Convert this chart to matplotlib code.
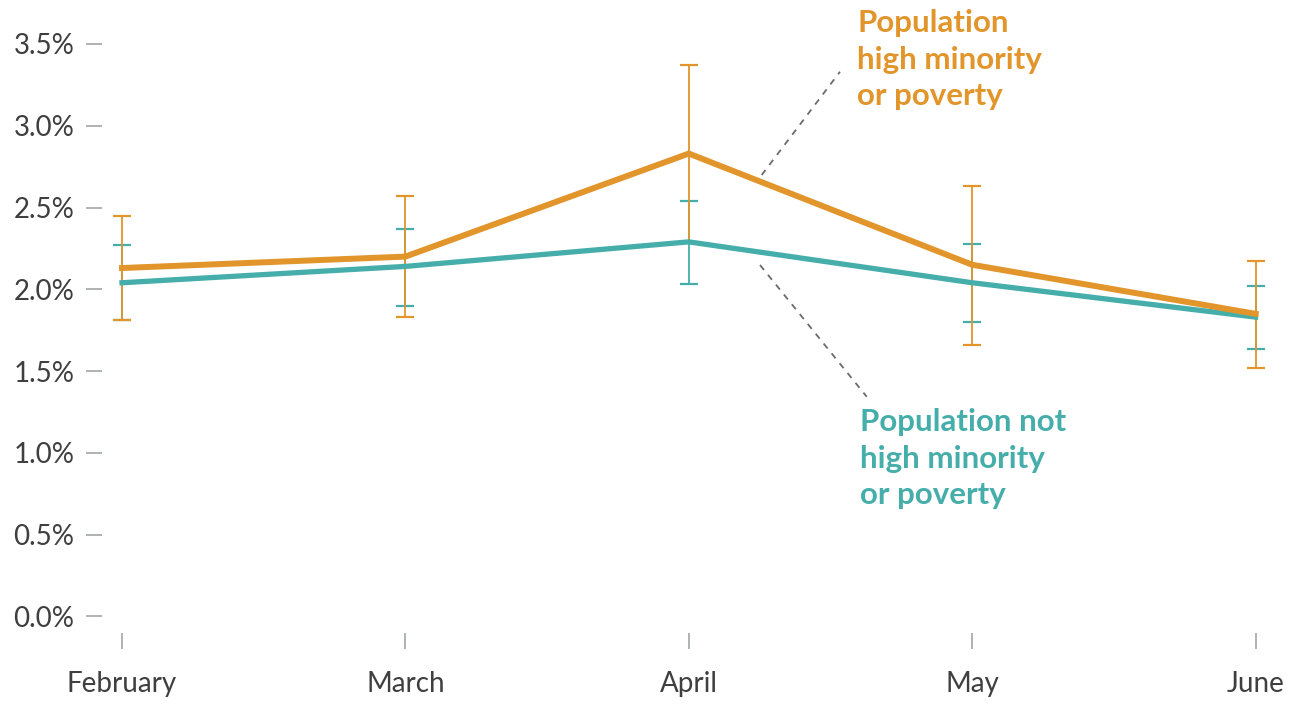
import matplotlib
matplotlib.use("Agg")
import matplotlib.pyplot as plt
import numpy as np

months = ["February", "March", "April", "May", "June"]
high_mean = [2.13, 2.20, 2.83, 2.15, 1.85]
high_lo = [1.81, 1.83, 2.29, 1.66, 1.52]
high_hi = [2.45, 2.57, 3.37, 2.63, 2.175]
not_mean = [2.04, 2.14, 2.29, 2.04, 1.83]
not_lo = [1.81, 1.90, 2.03, 1.80, 1.635]
not_hi = [2.27, 2.37, 2.54, 2.28, 2.02]
yticks = [0.0, 0.5, 1.0, 1.5, 2.0, 2.5, 3.0, 3.5]

ORANGE = "#E1952A"
TEAL = "#46AEAA"
GRAY_TICK = "#A9ADB0"
TXT = "#3F3F3F"

plt.rcParams['font.family'] = ['Lato', 'DejaVu Sans']

W, H = 1295, 709
fig = plt.figure(figsize=(W / 100, H / 100), dpi=100)
left_px, right_px, bottom_px, top_px = 101.7, 1290, 632.7, 10
ax = fig.add_axes([left_px / W, 1 - bottom_px / H, (right_px - left_px) / W, (bottom_px - top_px) / H])

x0_px, unit_x = 122, 283.4
y0_px, unit_y = 616.4, 163.55
ax.set_xlim((left_px - x0_px) / unit_x, (right_px - x0_px) / unit_x)
ax.set_ylim(-(bottom_px - y0_px) / unit_y, (y0_px - top_px) / unit_y)

x = np.arange(len(months))

def errs(m, lo, hi):
    m = np.array(m); return [m - np.array(lo), np.array(hi) - m]

ax.errorbar(x, not_mean, yerr=errs(not_mean, not_lo, not_hi), fmt='none',
            ecolor=TEAL, elinewidth=1.3, capsize=6.5, capthick=1.6, zorder=2)
ax.errorbar(x, high_mean, yerr=errs(high_mean, high_lo, high_hi), fmt='none',
            ecolor=ORANGE, elinewidth=1.3, capsize=6.5, capthick=1.6, zorder=3)
ax.plot(x, not_mean, color=TEAL, lw=3.8, zorder=4, solid_joinstyle='miter')
ax.plot(x, high_mean, color=ORANGE, lw=4.3, zorder=5, solid_joinstyle='miter')

for s in ax.spines.values():
    s.set_visible(False)
ax.set_xticks(x)
ax.set_xticklabels(months)
ax.set_yticks(yticks)
ax.set_yticklabels([f"{v:.1f}%" for v in yticks])
ax.tick_params(axis='both', colors=GRAY_TICK, length=11.5, width=1.3, direction='out',
               labelcolor=TXT, labelsize=20)
ax.tick_params(axis='y', pad=8)
ax.tick_params(axis='x', pad=16)

def dx(px): return (px - x0_px) / unit_x
def dy(py): return (y0_px - py) / unit_y

ax.plot([dx(761.7), dx(840)], [dy(175), dy(71.7)], ls=(0, (3.5, 3.5)), color="#6B6B6B", lw=1.3, zorder=1)
ax.plot([dx(760), dx(866.7)], [dy(265), dy(396.7)], ls=(0, (3.5, 3.5)), color="#6B6B6B", lw=1.3, zorder=1)

ax.text(dx(857), dy(9), "Population\nhigh minority\nor poverty", color=ORANGE, fontsize=22.5,
        fontweight='bold', ha='left', va='top', linespacing=1.37)
ax.text(dx(860), dy(408), "Population not\nhigh minority\nor poverty", color=TEAL, fontsize=22.5,
        fontweight='bold', ha='left', va='top', linespacing=1.37)

fig.savefig("out.png", dpi=100)
